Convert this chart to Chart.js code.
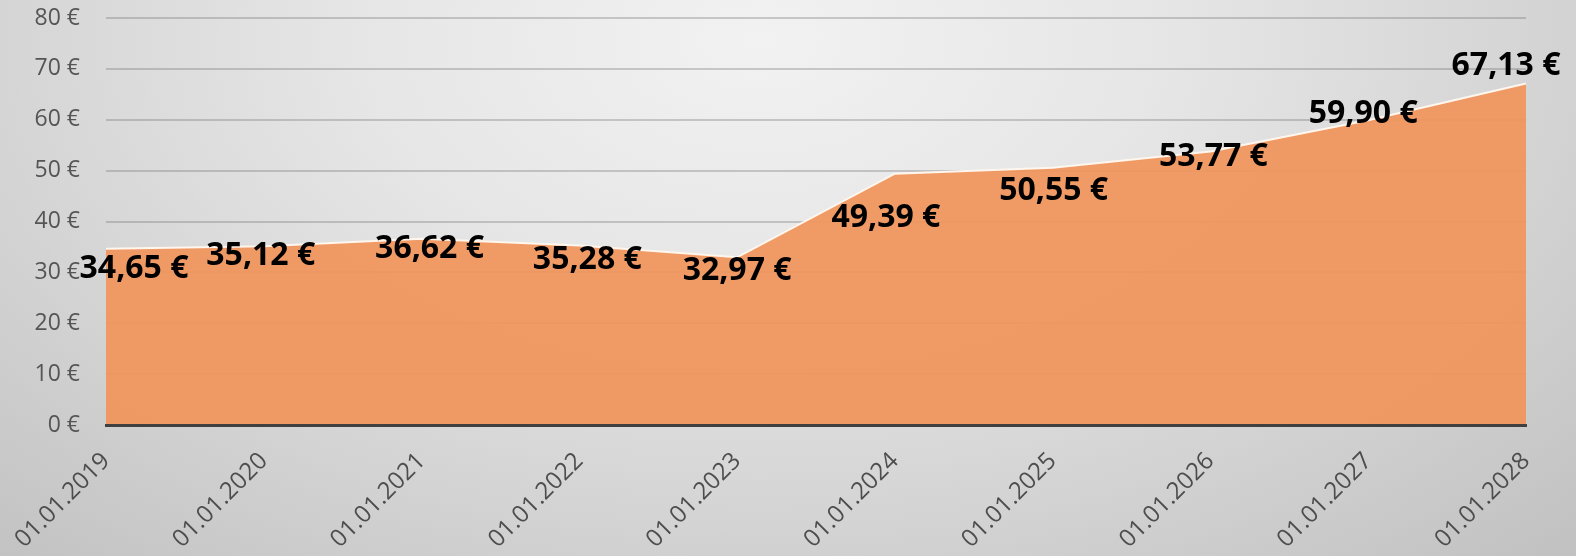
<!DOCTYPE html>
<html lang="de">
<head>
    <meta charset="UTF-8">
    <title>Preisentwicklung</title>
    <script src="https://cdn.jsdelivr.net/npm/chart.js"></script>
    <style>
        html, body { margin: 0; padding: 0; }
        body {
            width: 1576px;
            height: 556px;
            overflow: hidden;
            background: radial-gradient(ellipse 1150px 700px at 760px 40px, #f2f2f2 0%, #e6e6e6 35%, #d3d3d3 70%, #c2c2c2 100%);
        }
        #wrap { position: relative; width: 1576px; height: 556px; }
    </style>
</head>
<body>
    <div id="wrap"><canvas id="priceChart"></canvas></div>
    <script>
        // Data
        const dates = ['01.01.2019', '01.01.2020', '01.01.2021', '01.01.2022', '01.01.2023',
                       '01.01.2024', '01.01.2025', '01.01.2026', '01.01.2027', '01.01.2028'];
        const prices = [34.65, 35.12, 36.62, 35.28, 32.97, 49.39, 50.55, 53.77, 59.90, 67.13];

        // Nudges for the value labels (Excel placed them by hand), [dx, dy] in px
        const labelNudge = [[28, 20], [-3, 10], [8, 10], [8, 14], [0, 14],
                            [-9, 44], [1, 23], [3, 5], [-5, -6], [-20, -18]];

        const euro = v => v.toFixed(2).replace('.', ',') + ' €';

        // draws the bold value labels next to each point
        const valueLabels = {
            id: 'valueLabels',
            afterDatasetsDraw(chart) {
                const ctx = chart.ctx;
                const meta = chart.getDatasetMeta(0);
                ctx.save();
                ctx.font = 'bold 32px "Open Sans", sans-serif';
                ctx.fillStyle = '#000';
                ctx.textAlign = 'center';
                ctx.textBaseline = 'middle';
                meta.data.forEach((pt, i) => {
                    const [dx, dy] = labelNudge[i];
                    ctx.fillText(euro(prices[i]), pt.x + dx, pt.y + dy);
                });
                ctx.restore();
            }
        };

        const ctx = document.getElementById('priceChart').getContext('2d');
        new Chart(ctx, {
            type: 'line',
            data: {
                labels: dates,
                datasets: [{
                    data: prices,
                    fill: 'origin',
                    backgroundColor: 'rgba(240, 150, 94, 0.94)',
                    borderColor: '#fff6ee',
                    borderWidth: 2,
                    pointRadius: 0,
                    tension: 0
                }]
            },
            options: {
                responsive: true,
                maintainAspectRatio: false,
                animation: false,
                layout: { padding: { top: 18, right: 50, left: 0, bottom: 0 } },
                plugins: {
                    legend: { display: false },
                    tooltip: { enabled: false }
                },
                scales: {
                    x: {
                        type: 'category',
                        offset: false,
                        grid: { display: false, drawTicks: false },
                        border: { display: true, color: '#404040', width: 3, z: 1 },
                        ticks: {
                            color: '#4d4d4d',
                            font: { family: '"Open Sans", sans-serif', size: 24 },
                            minRotation: 45,
                            maxRotation: 45,
                            padding: 22,
                            autoSkip: false
                        },
                        afterFit(scale) {
                            scale.height = 556 - 425;
                            scale.paddingLeft = 0;
                            scale.paddingRight = 0;
                        }
                    },
                    y: {
                        min: 0,
                        max: 80,
                        grid: { color: 'rgba(110, 110, 110, 0.32)', lineWidth: 2, drawTicks: false },
                        border: { display: false },
                        ticks: {
                            stepSize: 10,
                            color: '#555555',
                            padding: 26,
                            font: { family: '"Open Sans", sans-serif', size: 23 },
                            callback: v => v + ' €'
                        },
                        afterFit(scale) {
                            scale.width = 106;
                            scale.paddingTop = 0;
                            scale.paddingBottom = 0;
                        }
                    }
                }
            },
            plugins: [valueLabels]
        });
    </script>
</body>
</html>
